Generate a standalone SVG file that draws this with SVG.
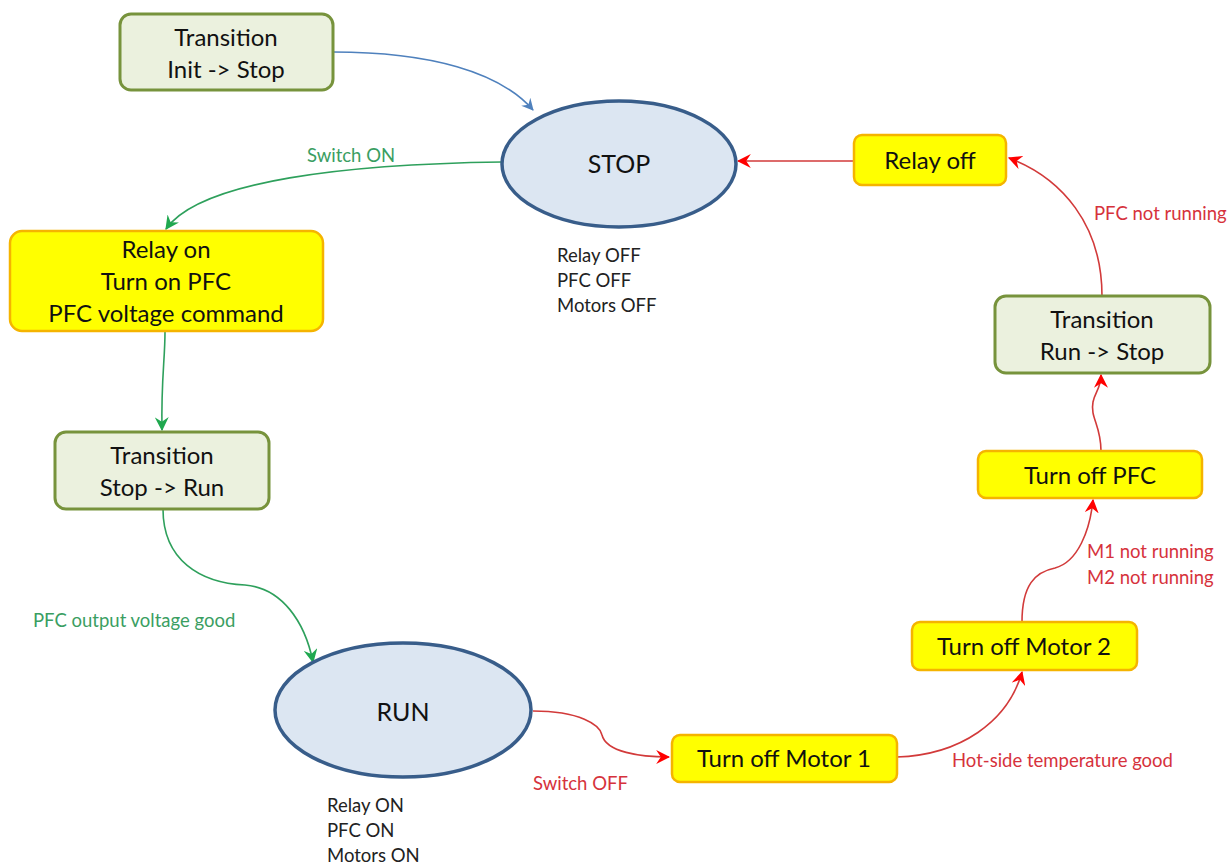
<svg xmlns="http://www.w3.org/2000/svg" width="1230" height="866" viewBox="0 0 1230 866">
  <style>
    text { font-family: Lato, "Open Sans", "Liberation Sans", sans-serif; }
    .trans { fill: #ebf1de; stroke: #77933c; stroke-width: 3; }
    .action { fill: #ffff00; stroke: #f5b400; stroke-width: 2.5; }
    .state { fill: #dce6f2; stroke: #385d8a; stroke-width: 3.5; }
    .lbl { font-size: 24px; fill: #111; text-anchor: middle; }
    .big { font-size: 25px; fill: #111; text-anchor: middle; }
    .note { font-size: 18.5px; fill: #222; }
    .g { font-size: 18.5px; fill: #3a9e62; }
    .r { font-size: 18.5px; fill: #d6323c; }
    .c { fill: none; stroke-width: 1.6; }
    .cb { stroke: #4f81bd; marker-end: url(#ab); }
    .cg { stroke: #2ea05c; marker-end: url(#ag); }
    .cr { stroke: #d23a3a; marker-end: url(#ar); }
  </style>
  <defs>
    <marker id="ab" viewBox="0 0 12 12" refX="11" refY="6" markerWidth="12" markerHeight="12" markerUnits="userSpaceOnUse" orient="auto">
      <path d="M0,0 L12,6 L0,12 L4,6 z" fill="#4f81bd"/>
    </marker>
    <marker id="ag" viewBox="0 0 12 12" refX="11" refY="6" markerWidth="14" markerHeight="14" markerUnits="userSpaceOnUse" orient="auto">
      <path d="M0,0 L12,6 L0,12 L4,6 z" fill="#1fa84f"/>
    </marker>
    <marker id="ar" viewBox="0 0 12 12" refX="11" refY="6" markerWidth="14" markerHeight="14" markerUnits="userSpaceOnUse" orient="auto">
      <path d="M0,0 L12,6 L0,12 L4,6 z" fill="#ff0000"/>
    </marker>
  </defs>
  <rect width="1230" height="866" fill="#ffffff"/>

  <!-- connectors -->
  <g id="connectors">
    <path class="c cb" d="M333,52 C430,52 500,72 533,110"/>
    <path class="c cg" d="M502,162 C350,164 200,180 166,229"/>
    <path class="c cg" d="M165,332 C165,360 161,380 162,430"/>
    <path class="c cg" d="M163,509 C163,560 200,583 245,585 C282,588 305,622 313,662"/>
    <path class="c cr" d="M533,711 C580,711 600,725 602,735 C606,752 640,757 669,757"/>
    <path class="c cr" d="M897,757 C960,755 1008,722 1022,672"/>
    <path class="c cr" d="M1022,622 C1022,585 1035,572 1055,568 C1078,562 1090,530 1093,500"/>
    <path class="c cr" d="M1101,451 C1101,425 1090,418 1093,402 C1095,392 1101,388 1101,375"/>
    <path class="c cr" d="M1102,296 C1102,225 1062,178 1009,158"/>
    <path class="c cr" d="M854,161 L738,161"/>
  </g>

  <!-- nodes -->
  <g id="trans-init-stop">
    <rect class="trans" x="120" y="14" width="213" height="76" rx="11"/>
    <text class="lbl" x="226" y="46">Transition</text>
    <text class="lbl" x="226" y="78">Init -&gt; Stop</text>
  </g>

  <g id="state-stop">
    <ellipse class="state" cx="619" cy="164" rx="117" ry="63"/>
    <text class="big" x="619" y="173">STOP</text>
    <text class="note" x="557" y="262">Relay OFF</text>
    <text class="note" x="557" y="287">PFC OFF</text>
    <text class="note" x="557" y="312">Motors OFF</text>
  </g>

  <g id="action-relay-off">
    <rect class="action" x="854" y="135" width="152" height="50" rx="8"/>
    <text class="lbl" x="930" y="169">Relay off</text>
  </g>

  <g id="action-relay-on">
    <rect class="action" x="10" y="231" width="313" height="100" rx="12"/>
    <text class="lbl" x="166" y="258">Relay on</text>
    <text class="lbl" x="166" y="290">Turn on PFC</text>
    <text class="lbl" x="166" y="322">PFC voltage command</text>
  </g>

  <g id="trans-stop-run">
    <rect class="trans" x="55" y="432" width="214" height="77" rx="11"/>
    <text class="lbl" x="162" y="464">Transition</text>
    <text class="lbl" x="162" y="496">Stop -&gt; Run</text>
  </g>

  <g id="state-run">
    <ellipse class="state" cx="403" cy="710" rx="128" ry="67"/>
    <text class="big" x="403" y="721">RUN</text>
    <text class="note" x="327" y="812">Relay ON</text>
    <text class="note" x="327" y="837">PFC ON</text>
    <text class="note" x="327" y="862">Motors ON</text>
  </g>

  <g id="action-motor1">
    <rect class="action" x="672" y="735" width="225" height="47" rx="8"/>
    <text class="lbl" x="784" y="767">Turn off Motor 1</text>
  </g>

  <g id="action-motor2">
    <rect class="action" x="912" y="622" width="225" height="48" rx="8"/>
    <text class="lbl" x="1024" y="655">Turn off Motor 2</text>
  </g>

  <g id="action-pfc-off">
    <rect class="action" x="978" y="451" width="224" height="47" rx="8"/>
    <text class="lbl" x="1090" y="484">Turn off PFC</text>
  </g>

  <g id="trans-run-stop">
    <rect class="trans" x="995" y="296" width="215" height="77" rx="11"/>
    <text class="lbl" x="1102" y="328">Transition</text>
    <text class="lbl" x="1102" y="360">Run -&gt; Stop</text>
  </g>

  <!-- transition labels -->
  <g id="labels">
    <text class="g" x="307" y="162">Switch ON</text>
    <text class="g" x="33" y="627">PFC output voltage good</text>
    <text class="r" x="533" y="790">Switch OFF</text>
    <text class="r" x="952" y="767">Hot-side temperature good</text>
    <text class="r" x="1087" y="558">M1 not running</text>
    <text class="r" x="1087" y="584">M2 not running</text>
    <text class="r" x="1094" y="220">PFC not running</text>
  </g>
</svg>
